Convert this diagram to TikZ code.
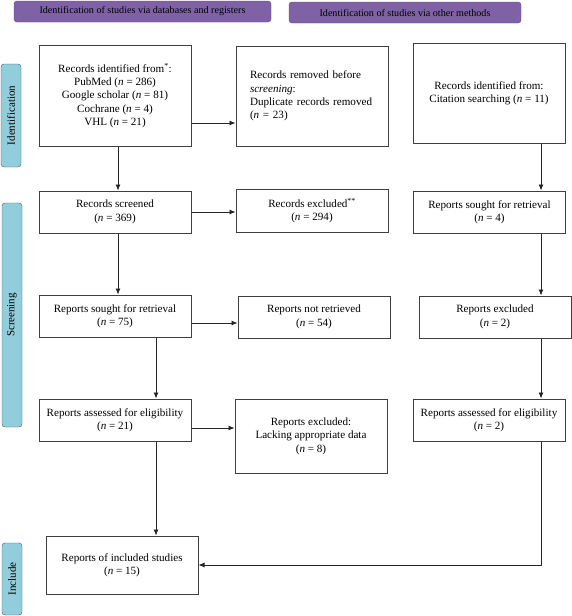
\documentclass[tikz,border=0pt]{standalone}
\usepackage{fontspec}
\setmainfont{Liberation Serif}
\usetikzlibrary{arrows.meta, positioning, calc}

\definecolor{headpurple}{HTML}{7F62A6}
\definecolor{sideblue}{HTML}{92CDDC}
\newcommand{\nn}[1]{(\textit{n} = #1)}

\begin{document}
\begin{tikzpicture}[x=1pt, y=-1pt,
    box/.style={draw=black!75, line width=1pt, rectangle, minimum width=152pt, align=center, font=\fontsize{11.1}{13.4}\selectfont},
    head/.style={draw=headpurple!75!black, fill=headpurple, rounded corners=3pt, minimum height=21pt, font=\fontsize{10.1}{12}\selectfont},
    side/.style={draw=sideblue!45!black, fill=sideblue, rounded corners=3pt, rotate=90, minimum height=20pt, font=\fontsize{11}{13}\selectfont},
    flow/.style={draw=black!85, line width=0.8pt, -{Latex[length=6pt,width=5pt]}}]
\useasboundingbox (0,0) rectangle (572,616);

% Headers and phases
\node[head, minimum width=257pt] (hdb) at (142.5, 11.5) {Identification of studies via databases and registers};
\node[head, minimum width=232pt] (hother) at (405, 12.5) {Identification of studies via other methods};
\node[side, minimum width=103pt] (pid) at (11, 115.5) {Identification};
\node[side, minimum width=224pt] (pscr) at (12, 315) {Screening};
\node[side, minimum width=72pt] (pinc) at (12, 579) {Include};

% Databases and registers
\node[box, minimum height=101pt] (ident) at (115, 95.5) {Records identified from\textsuperscript{*}:\\ PubMed \nn{286}\\ Google scholar \nn{81}\\ Cochrane \nn{4}\\ VHL \nn{21}};
\node[box, minimum height=100pt, text width=124pt, inner xsep=14pt, align=left] (removed) at (312, 96) {Records removed before\\ \textit{screening}:\\ Duplicate records removed\\ \nn{23}};
\node[box, minimum height=42pt] (screened) at (115, 212) {Records screened\\ \nn{369}};
\node[box, minimum height=43pt] (excluded) at (312, 210.5) {Records excluded\textsuperscript{**}\\ \nn{294}};
\node[box, minimum height=42pt] (sought) at (115, 316) {Reports sought for retrieval\\ \nn{75}};
\node[box, minimum height=42pt] (notret) at (314, 317) {Reports not retrieved\\ \nn{54}};
\node[box, minimum height=42pt] (assessed) at (115, 420) {Reports assessed for eligibility\\ \nn{21}};
\node[box, minimum height=74pt] (lacking) at (311, 436) {Reports excluded:\\ Lacking appropriate data\\ \nn{8}};
\node[box, minimum height=58pt] (incl) at (122, 565) {Reports of included studies\\ \nn{15}};

% Other methods
\node[box, minimum height=100pt] (cite) at (489, 93) {Records identified from:\\ Citation searching \nn{11}};
\node[box, minimum height=42pt] (sought2) at (489.5, 212) {Reports sought for retrieval\\ \nn{4}};
\node[box, minimum height=42pt] (excl2) at (495, 317) {Reports excluded\\ \nn{2}};
\node[box, minimum height=42pt] (assessed2) at (489, 420) {Reports assessed for eligibility\\ \nn{2}};

% Arrows
\draw[flow] ([xshift=3pt]ident.south) -- ([xshift=3pt]screened.north);
\draw[flow] (ident.east |- 0,123) -- (removed.west |- 0,123);
\draw[flow] (screened.east) -- (excluded.west |- screened.east);
\draw[flow] ([xshift=3pt]screened.south) -- ([xshift=3pt]sought.north);
\draw[flow] (sought.east |- 0,323) -- (notret.west |- 0,323);
\draw[flow] ([xshift=41pt]sought.south) -- ([xshift=41pt]assessed.north);
\draw[flow] (assessed.east |- 0,428) -- (lacking.west |- 0,428);
\draw[flow] ([xshift=41pt]assessed.south) -- ([xshift=34pt]incl.north);
\draw[flow] ([xshift=52pt]cite.south) -- ([xshift=51.5pt]sought2.north);
\draw[flow] ([xshift=51.5pt]sought2.south) -- ([xshift=46pt]excl2.north);
\draw[flow] ([xshift=46pt]excl2.south) -- ([xshift=52pt]assessed2.north);
\draw[flow] ([xshift=52pt]assessed2.south) |- (incl.east);
\end{tikzpicture}
\end{document}
